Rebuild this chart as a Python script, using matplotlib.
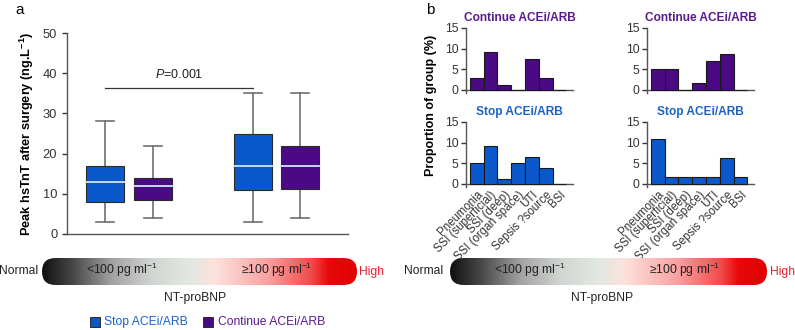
import numpy as np
import matplotlib
matplotlib.use("Agg")
import matplotlib.pyplot as plt
from matplotlib.colors import LinearSegmentedColormap
from matplotlib.patches import FancyBboxPatch, Rectangle

plt.rcParams['font.family'] = ['Liberation Sans', 'DejaVu Sans']
plt.rcParams['mathtext.fontset'] = 'custom'
plt.rcParams['mathtext.rm'] = 'Liberation Sans'
plt.rcParams['mathtext.it'] = 'Liberation Sans:italic'
plt.rcParams['mathtext.bf'] = 'Liberation Sans:bold'

# ---------------- datos ----------------
# panel a: cajas (whisker bajo, Q1, mediana, Q3, whisker alto)
grupos = ['Stop <100', 'Continue <100', 'Stop >=100', 'Continue >=100']
wlo = [3, 4, 3, 4]
q1 = [8, 8.5, 11, 11.3]
mediana = [13, 12, 17, 17]
q3 = [17, 14, 25, 22]
whi = [28, 22, 35, 35]
p_texto = '$P$=0.001'

# panel b: proporcion de infecciones (%)
categorias = ['Pneumonia', 'SSI (superficial)', 'SSI (deep)', 'SSI (organ space)',
              'UTI', 'Sepsis ?source', 'BSI']
cont_bajo = [3, 9.1, 1.3, 0, 7.5, 3, 0]
cont_alto = [5.2, 5.2, 0, 1.7, 7, 8.8, 0]
stop_bajo = [5, 9.1, 1.3, 5.1, 6.5, 3.8, 0]
stop_alto = [10.8, 1.8, 1.8, 1.8, 1.8, 6.3, 1.8]

AZUL = '#0b58cc'
MORADO = '#4a0a84'
AZUL_TXT = '#1a62c8'
MORADO_TXT = '#5a1a8e'
ROJO = '#e8202a'

W, H = 795, 330
fig = plt.figure(figsize=(W / 100, H / 100), dpi=100)


def fx(x):
    return x / W


def fy(y):
    return 1 - y / H


def estilo(ax):
    for s in ['top', 'right']:
        ax.spines[s].set_visible(False)
    for s in ['left', 'bottom']:
        ax.spines[s].set_color('#555555')
        ax.spines[s].set_linewidth(1.0)
    ax.tick_params(colors='#333333', width=1.0, length=3.5)


# ========================== PANEL A ==========================
axa = fig.add_axes([fx(67), fy(234), fx(348) - fx(67), fy(33) - fy(234)])
estilo(axa)
pos = [1, 2, 4.1, 5.1]
colores = [AZUL, MORADO, AZUL, MORADO]
ancho = 0.8
for i in range(4):
    p = pos[i]
    axa.add_patch(Rectangle((p - ancho / 2, q1[i]), ancho, q3[i] - q1[i],
                            facecolor=colores[i], edgecolor='#2a2a2a', lw=0.8, zorder=3))
    axa.plot([p - ancho / 2, p + ancho / 2], [mediana[i]] * 2, color='#cfe6ff', lw=1.3, zorder=4)
    axa.plot([p, p], [q3[i], whi[i]], color='#707070', lw=1.2, zorder=2)
    axa.plot([p, p], [wlo[i], q1[i]], color='#707070', lw=1.2, zorder=2)
    for v in [whi[i], wlo[i]]:
        axa.plot([p - 0.19, p + 0.19], [v, v], color='#707070', lw=1.2, zorder=2)

axa.plot([pos[0], pos[2]], [36.4, 36.4], color='#333333', lw=0.9)
axa.text((pos[0] + pos[2]) / 2, 38, p_texto, ha='center', va='bottom', fontsize=9, color='#222222')
axa.set_xlim(0.2, 6.1)
axa.set_ylim(0, 50)
axa.set_yticks(range(0, 51, 10))
axa.set_xticks([])
axa.tick_params(axis='y', labelsize=9.3)
axa.set_ylabel('Peak hsTnT after surgery (ng.L$^{\\mathbf{-1}}$)', fontsize=9.2,
               fontweight='bold', labelpad=5)
fig.text(fx(20), fy(10), 'a', fontsize=11, ha='center', va='center')

# ========================== PANEL B ==========================
pos_b = {
    (0, 0): (466, 28, 90), (0, 1): (647, 28, 90),
    (1, 0): (466, 122, 184), (1, 1): (647, 122, 184),
}
datos_b = {(0, 0): cont_bajo, (0, 1): cont_alto, (1, 0): stop_bajo, (1, 1): stop_alto}
for (r, c), (x0, ytop, ycero) in pos_b.items():
    escala = (ycero - ytop) / 15.0
    ybot = ycero + 0.7 * escala
    ax = fig.add_axes([fx(x0), fy(ybot), 107 / W, fy(ytop) - fy(ybot)])
    estilo(ax)
    col = MORADO if r == 0 else AZUL
    ax.bar(np.arange(len(categorias)), datos_b[(r, c)], width=1.0, color=col,
           edgecolor='#1a1a1a', lw=0.8, zorder=3)
    ax.set_xlim(-0.77, 6.98)
    ax.set_ylim(-0.7, 15)
    ax.spines['bottom'].set_position(('data', 0))
    ax.set_yticks([0, 5, 10, 15])
    ax.tick_params(axis='y', labelsize=8.8, pad=2)
    ax.set_xticks(np.arange(len(categorias)))
    ax.tick_params(axis='x', length=0)
    if r == 1:
        ax.set_xticklabels(categorias, rotation=45, ha='right', rotation_mode='anchor',
                           fontsize=8.3)
    else:
        ax.set_xticklabels([])
    titulo = 'Continue ACEi/ARB' if r == 0 else 'Stop ACEi/ARB'
    ax.set_title(titulo, fontsize=8.6, fontweight='bold',
                 color=MORADO_TXT if r == 0 else AZUL_TXT, pad=5)

fig.text(fx(431), fy(105), 'Proportion of group (%)', rotation=90, fontsize=9,
         fontweight='bold', ha='center', va='center')
fig.text(fx(430), fy(10), 'b', fontsize=11, ha='center', va='center')

# ========================== BARRAS DEGRADADAS ==========================
cmap = LinearSegmentedColormap.from_list('ntprobnp', [
    (0.0, '#111111'), (0.1, '#4a4a4a'), (0.22, '#a2a2a2'), (0.35, '#d2d6d2'),
    (0.47, '#e2e8e2'), (0.55, '#fde2dc'), (0.72, '#f9a0a0'), (0.86, '#f24848'),
    (0.91, '#e80a0a'), (1.0, '#e00000')])


def barra_gradiente(x0, x1, y0, y1, cx_bajo, cx_alto, cx_titulo, x_normal, x_high):
    ancho_px = x1 - x0
    alto_px = y1 - y0
    ax = fig.add_axes([fx(x0), fy(y1), ancho_px / W, alto_px / H])
    ax.set_axis_off()
    ax.set_xlim(0, ancho_px)
    ax.set_ylim(0, alto_px)
    grad = np.linspace(0, 1, 400).reshape(1, -1)
    im = ax.imshow(grad, aspect='auto', cmap=cmap, extent=(0, ancho_px, 0, alto_px))
    caja = FancyBboxPatch((0, 0), ancho_px, alto_px,
                          boxstyle='round,pad=0,rounding_size=%f' % (alto_px / 2),
                          transform=ax.transData, facecolor='none', edgecolor='none')
    ax.add_patch(caja)
    im.set_clip_path(caja)
    ym = fy((y0 + y1) / 2)
    fig.text(fx(cx_bajo), ym + 0.006, '<100 pg ml$^{-1}$', ha='center', va='center',
             fontsize=8.7, color='#222222')
    fig.text(fx(cx_alto), ym + 0.006, '\u2265100 pg ml$^{-1}$', ha='center', va='center',
             fontsize=8.7, color='#222222')
    fig.text(fx(x_normal), ym, 'Normal', ha='center', va='center', fontsize=8.7,
             color='#222222')
    fig.text(fx(x_high), ym, 'High', ha='left', va='center', fontsize=8.7, color=ROJO)
    fig.text(fx(cx_titulo), fy(298), 'NT-proBNP', ha='center', va='center', fontsize=8.7,
             color='#222222')


barra_gradiente(42, 357, 258, 285, 122, 277, 195, 19, 359)
barra_gradiente(450, 767, 258, 285, 530, 685, 602, 424, 770)

# ========================== LEYENDA ==========================
fig.patches.append(Rectangle((fx(90), fy(327)), 10 / W, 10 / H, transform=fig.transFigure,
                             facecolor=AZUL, edgecolor='#1a1a1a', lw=0.6))
fig.text(fx(104), fy(322), 'Stop ACEi/ARB', ha='left', va='center', fontsize=8.7,
         color=AZUL_TXT)
fig.patches.append(Rectangle((fx(203), fy(327)), 10 / W, 10 / H, transform=fig.transFigure,
                             facecolor=MORADO, edgecolor='#1a1a1a', lw=0.6))
fig.text(fx(218), fy(322), 'Continue ACEi/ARB', ha='left', va='center', fontsize=8.7,
         color=MORADO_TXT)

fig.savefig('out.png', dpi=100)
